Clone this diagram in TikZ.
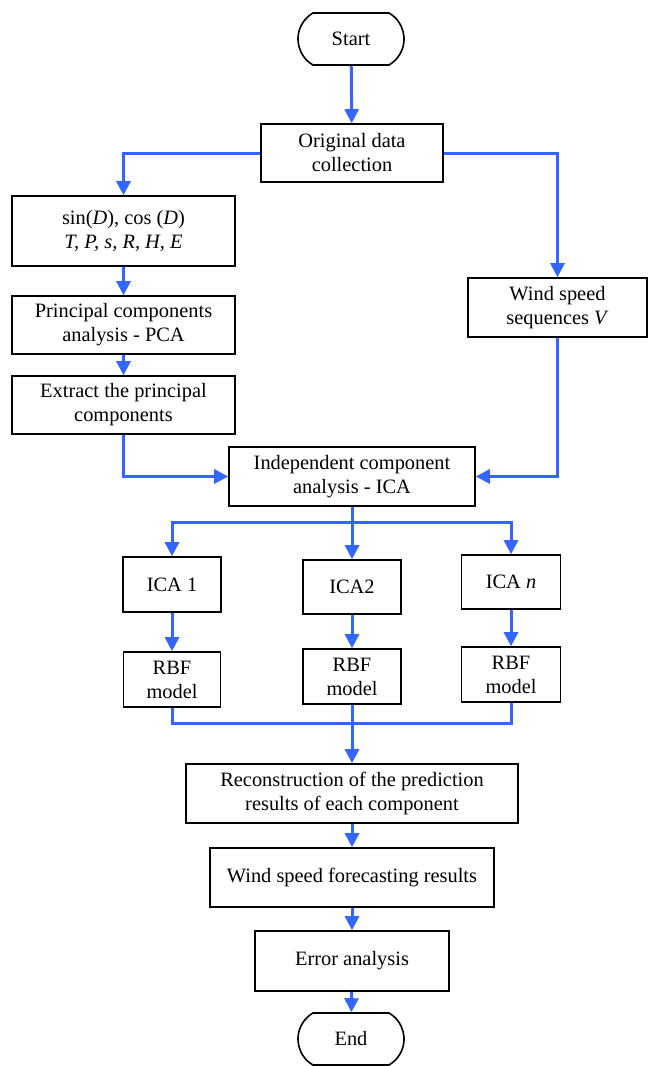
\documentclass[tikz,border=0pt]{standalone}
\usepackage{fontspec}
\setmainfont{Liberation Serif}
\usetikzlibrary{arrows.meta,shapes.misc}
\definecolor{flowblue}{RGB}{51,102,255}
\begin{document}
\begin{tikzpicture}[x=1pt,y=-1pt,
  box/.style={draw=black, line width=1.6pt, align=center, inner sep=0pt,
    font=\fontsize{20.4}{24}\selectfont},
  term/.style={box, rounded rectangle, rounded rectangle arc length=120,
    minimum width=106pt, minimum height=52pt},
  arr/.style={draw=flowblue, line width=3pt, -{Triangle[width=14pt,length=14pt]}},
  ln/.style={draw=flowblue, line width=3pt}]
\useasboundingbox (0,0) rectangle (648,1066);
% nodes
\node[term] (start) at (351,39) {Start};
\node[box, minimum width=182pt, minimum height=58pt] (orig) at (352,153) {Original data\\collection};
\node[box, minimum width=223pt, minimum height=70pt] (sin) at (123.5,231) {sin(\textit{D}), cos (\textit{D})\\\textit{T, P, s, R, H, E}};
\node[box, minimum width=223pt, minimum height=58pt] (pca) at (123.5,325) {Principal components\\analysis - PCA};
\node[box, minimum width=223pt, minimum height=58pt] (extract) at (123.5,405) {Extract the principal\\components};
\node[box, minimum width=179pt, minimum height=59pt] (wind) at (557.5,307.5) {Wind speed\\sequences \textit{V}};
\node[box, minimum width=246pt, minimum height=59pt] (ica) at (352,476.5) {Independent component\\analysis - ICA};
\node[box, minimum width=98pt, minimum height=55pt] (ica1) at (172,584.5) {ICA 1};
\node[box, minimum width=98pt, minimum height=54pt] (ica2) at (352,587) {ICA2};
\node[box, minimum width=99pt, minimum height=54pt] (ican) at (511,582) {ICA \textit{n}};
\node[box, minimum width=97pt, minimum height=55pt] (rbf1) at (172,679.5) {RBF\\model};
\node[box, minimum width=98pt, minimum height=55pt] (rbf2) at (352,676.5) {RBF\\model};
\node[box, minimum width=99pt, minimum height=55pt] (rbfn) at (511,674.5) {RBF\\model};
\node[box, minimum width=332pt, minimum height=59pt] (recon) at (352,793.5) {Reconstruction of the prediction\\results of each component};
\node[box, minimum width=284pt, minimum height=59pt] (fore) at (352,877.5) {Wind speed forecasting results};
\node[box, minimum width=194pt, minimum height=60pt] (err) at (352,961) {Error analysis};
\node[term] (end) at (351,1039) {End};
% connectors
\draw[arr] (start) -- (orig);
\draw[arr] (orig.west) -| (sin.north);
\draw[arr] (orig.east) -| (wind.north);
\draw[arr] (sin) -- (pca);
\draw[arr] (pca) -- (extract);
\draw[arr] (extract.south) |- (ica.west);
\draw[arr] (wind.south) |- (ica.east);
\coordinate (split) at (352,522);
\draw[ln] (ica.south) -- (split);
\draw[arr] (split) -| (ica1.north);
\draw[arr] (split) -- (ica2.north);
\draw[arr] (split) -| (ican.north);
\draw[arr] (ica1) -- (rbf1);
\draw[arr] (ica2) -- (rbf2);
\draw[arr] (ican) -- (rbfn);
\coordinate (merge) at (352,723);
\draw[ln] (rbf1.south) |- (merge);
\draw[ln] (rbfn.south) |- (merge);
\draw[ln] (rbf2.south) -- (merge);
\draw[arr] (merge) -- (recon.north);
\draw[arr] (recon) -- (fore);
\draw[arr] (fore) -- (err);
\draw[arr] (err) -- (end);
\end{tikzpicture}
\end{document}
